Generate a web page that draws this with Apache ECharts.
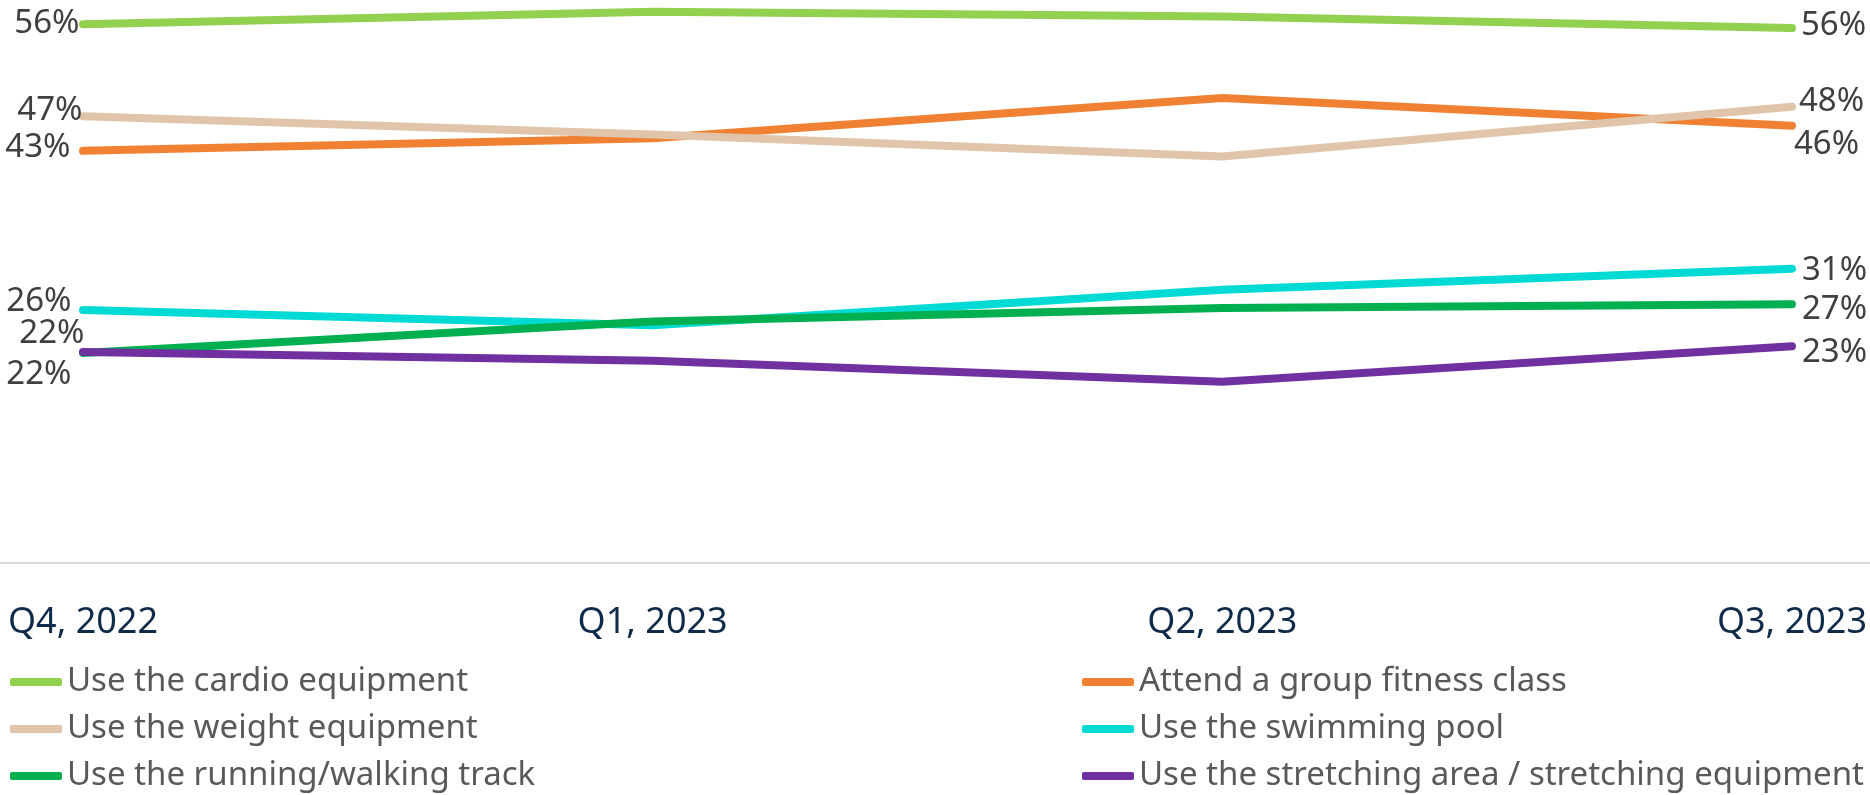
<!DOCTYPE html>
<html>
<head>
<meta charset="utf-8">
<script src="https://cdn.jsdelivr.net/npm/echarts@6/dist/echarts.min.js"></script>
<style>
html,body{margin:0;padding:0;background:#fff;}
#chart{width:1870px;height:795px;}
</style>
</head>
<body>
<div id="chart"></div>
<script>
const categories = ['Q4, 2022', 'Q1, 2023', 'Q2, 2023', 'Q3, 2023'];
const seriesNames = [
  'Use the cardio equipment',
  'Attend a group fitness class',
  'Use the weight equipment',
  'Use the swimming pool',
  'Use the running/walking track',
  'Use the stretching area / stretching equipment'
];
const cardio = [56.2, 57.5, 57.0, 55.8];
const groupFitness = [43.0, 44.3, 48.5, 45.6];
const weight = [46.6, 44.7, 42.4, 47.6];
const swimming = [26.4, 24.8, 28.5, 30.7];
const track = [21.9, 25.2, 26.6, 27.0];
const stretching = [22.0, 21.1, 18.9, 22.6];

const seriesData = [cardio, groupFitness, weight, swimming, track, stretching];
const colors = ['#92d050', '#f08133', '#e0c5aa', '#00dad5', '#00b050', '#7030a0'];
// label offsets (style only): [left dx, left dy, right dx, right dy]
const labelOffsets = [
  [-3, -1, 9, -2],
  [-12, -3, 2, 19],
  [0, -6, 7, -5],
  [-11, -8, 10, 2],
  [2, -19, 10, 5],
  [-11, 22, 10, 6]
];
const FONT = 'Noto Sans';
const fmt = p => Math.round(p.value) + '%';

const series = seriesNames.map((name, i) => ({
  name: name,
  type: 'line',
  data: seriesData[i],
  symbol: 'circle',
  symbolSize: 1,
  showSymbol: true,
  smooth: false,
  lineStyle: { color: colors[i], width: 8, cap: 'round', join: 'round' },
  itemStyle: { color: colors[i] },
  label: {
    show: true,
    position: 'left',
    distance: 0,
    offset: [labelOffsets[i][0], labelOffsets[i][1]],
    fontFamily: FONT, fontSize: 33, color: '#404040',
    formatter: p => p.dataIndex === 0 ? fmt(p) : ''
  },
  endLabel: {
    show: true,
    distance: 0,
    offset: [labelOffsets[i][2], labelOffsets[i][3]],
    fontFamily: FONT, fontSize: 33, color: '#404040',
    formatter: fmt
  },
  emphasis: { disabled: true },
  animation: false
}));

const legendCommon = {
  orient: 'vertical', top: 665, padding: 0,
  icon: 'roundRect', itemWidth: 52, itemHeight: 8, itemGap: 13,
  textStyle: { fontFamily: FONT, fontSize: 33, color: '#595959', lineHeight: 34 },
  selectedMode: false
};

const chart = echarts.init(document.getElementById('chart'));
chart.setOption({
  backgroundColor: '#ffffff',
  animation: false,
  grid: [
    { left: 83, right: 77, top: 7, bottom: 232 },
    { left: 0, right: 0, top: 7, bottom: 232 }
  ],
  xAxis: [
    {
      type: 'category', gridIndex: 0, data: categories, boundaryGap: false,
      axisLine: { show: false }, axisTick: { show: false }, splitLine: { show: false },
      axisLabel: { margin: 42, fontFamily: FONT, fontSize: 36, color: '#0f2b49' }
    },
    {
      type: 'value', gridIndex: 1, min: 0, max: 1,
      axisLine: { show: true, lineStyle: { color: '#d9d9d9', width: 2 } },
      axisTick: { show: false }, axisLabel: { show: false }, splitLine: { show: false }
    }
  ],
  yAxis: [
    { type: 'value', gridIndex: 0, min: 0, max: 58, show: false, splitLine: { show: false } },
    { type: 'value', gridIndex: 1, min: 0, max: 1, show: false, splitLine: { show: false } }
  ],
  legend: [
    Object.assign({}, legendCommon, { left: 10, data: [seriesNames[0], seriesNames[2], seriesNames[4]] }),
    Object.assign({}, legendCommon, { left: 1082, data: [seriesNames[1], seriesNames[3], seriesNames[5]] })
  ],
  series: series
});
</script>
</body>
</html>
